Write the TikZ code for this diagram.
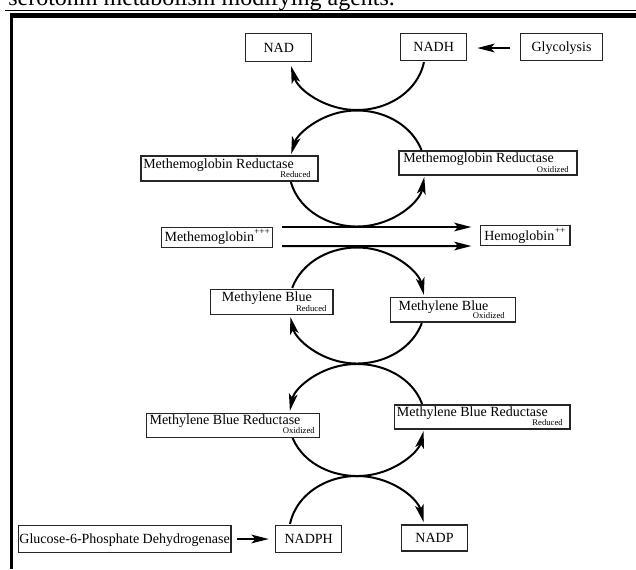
\documentclass[tikz,border=0pt]{standalone}
\usepackage{fontspec}
\setmainfont{Liberation Serif}
\usetikzlibrary{arrows.meta,calc}
\begin{document}
\begin{tikzpicture}[x=0.75pt,y=-0.75pt,
  bx/.style 2 args={draw=black!85, line width=0.8pt, inner sep=0pt, minimum width=#1*0.75pt, minimum height=#2*0.75pt,
     font=\fontsize{10.5}{12}\selectfont, text height=7pt, text depth=0pt},
  lbl/.style={inner sep=0pt, font=\fontsize{10.5}{12}\selectfont},
  subl/.style={inner sep=0pt, font=\fontsize{6.5}{7}\selectfont},
  supl/.style={inner sep=0pt, font=\fontsize{7}{8}\selectfont},
  cyc/.style={line width=1.5pt, -{Stealth[length=13pt,width=6.5pt,inset=3pt]}},
]
\useasboundingbox (0,0) rectangle (636,569);
% page fragments
\begin{scope}
\clip (0,0) rectangle (636,569);
\node[anchor=base west, inner sep=0pt, font=\fontsize{18}{20}\selectfont] (cap) at (8,5) {serotonin metabolism modifying agents.};
\end{scope}
\draw[line width=0.75pt] (5,10) -- (636,10);
\fill (11,12.5) rectangle (636,17.5);
\draw[line width=2pt] (11.8,12.5) -- (11.8,569);

% boxes
\node[bx={66}{27.7}] (nad) at (278.7,47.8) {NAD};
\node[bx={66}{27.4}] (nadh) at (433.7,47) {NADH};
\node[bx={81.6}{27.4}] (gly) at (561.5,47) {Glycolysis};

\node[bx={177}{25}] (mrr) at (229.5,168.5) {};
\node[lbl, anchor=base west] (mrrt) at (143,168.3) {Methemoglobin Reductase};
\node[subl, anchor=base east] (mrrs) at (311,177.3) {Reduced};

\node[bx={178}{24}] (mro) at (488,163) {};
\node[lbl, anchor=base west] (mrot) at (403,162.7) {Methemoglobin Reductase};
\node[subl, anchor=base east] (mros) at (569,172.7) {Oxidized};

\node[bx={111}{19.6}] (meth) at (217.2,237.5) {};
\node[lbl, anchor=base west] (metht) at (164.3,241.7) {Methemoglobin};
\node[supl, anchor=west] (meths) at (253.8,231.5) {+++};

\node[bx={89.3}{20}] (hemo) at (525.35,235.7) {};
\node[lbl, anchor=base west] (hemot) at (484,240) {Hemoglobin};
\node[supl, anchor=west] (hemos) at (554.5,230.5) {++};

\node[bx={122.3}{25}] (mbr) at (271.85,301.8) {};
\node[lbl, anchor=base west] (mbrt) at (221.7,301.7) {Methylene Blue};
\node[subl, anchor=base east] (mbrs) at (326.7,311) {Reduced};

\node[bx={125}{24.7}] (mbo) at (453.2,309.65) {};
\node[lbl, anchor=base west] (mbot) at (398.3,310) {Methylene Blue};
\node[subl, anchor=base east] (mbos) at (505,318.3) {Oxidized};

\node[bx={172.6}{24}] (mbro) at (233,425.3) {};
\node[lbl, anchor=base west] (mbrot) at (149.3,424.3) {Methylene Blue Reductase};
\node[subl, anchor=base east] (mbros) at (315,433.3) {Oxidized};

\node[bx={175.7}{24}] (mbrr) at (482.15,417) {};
\node[lbl, anchor=base west] (mbrrt) at (396.7,416.7) {Methylene Blue Reductase};
\node[subl, anchor=base east] (mbrrs) at (563,425.5) {Reduced};

\node[bx={212.7}{26.6}] (glu) at (124.65,539) {Glucose-6-Phosphate Dehydrogenase};
\node[bx={66}{26.6}] (nadph) at (308.7,539) {NADPH};
\node[bx={65.6}{26}] (nadp) at (434.5,538) {NADP};

% straight arrows
\draw[cyc] ($(gly.west)+(-10,1)$) -- ($(nadh.east)+(10,1)$);
\draw[cyc] ($(glu.east)+(5.7,0)$) -- ($(nadph.west)+(-6.4,0)$);
\draw[cyc] ($(meth.east)+(9,-10.5)$) -- ($(hemo.west)+(-8.7,-8.7)$);
\draw[cyc] ($(meth.east)+(9,8.5)$) -- ($(hemo.west)+(-8.7,10.3)$);

% cycles
\coordinate (c0) at (357,52);
\coordinate (c1) at (357,168.5);
\coordinate (c2) at (357,305.5);
\coordinate (c3) at (357,420);
\coordinate (c4) at (357,534);

\draw[cyc] ($(c0)+(10:68 and 58)$) arc[start angle=10,end angle=166,x radius=68,y radius=58];
\draw[cyc] ($(c1)+(-18.6:68 and 58)$) arc[start angle=-18.6,end angle=-165.5,x radius=68,y radius=58];
\draw[cyc] ($(c1)+(166.5:68 and 58)$) arc[start angle=166.5,end angle=8.4,x radius=68,y radius=58];
\draw[cyc] ($(c2)+(-162.4:68 and 58)$) arc[start angle=-162.4,end angle=-10.4,x radius=68,y radius=58];
\draw[cyc] ($(c2)+(17.6:68 and 58)$) arc[start angle=17.6,end angle=168.6,x radius=68,y radius=58];
\draw[cyc] ($(c3)+(-16.6:68 and 56)$) arc[start angle=-16.6,end angle=-170.75,x radius=68,y radius=56];
\draw[cyc] ($(c3)+(161.3:68 and 56)$) arc[start angle=161.3,end angle=11.3,x radius=68,y radius=56];
\draw[cyc] ($(c4)+(-170:68 and 58)$) arc[start angle=-170,end angle=-12,x radius=68,y radius=58];
\end{tikzpicture}
\end{document}
